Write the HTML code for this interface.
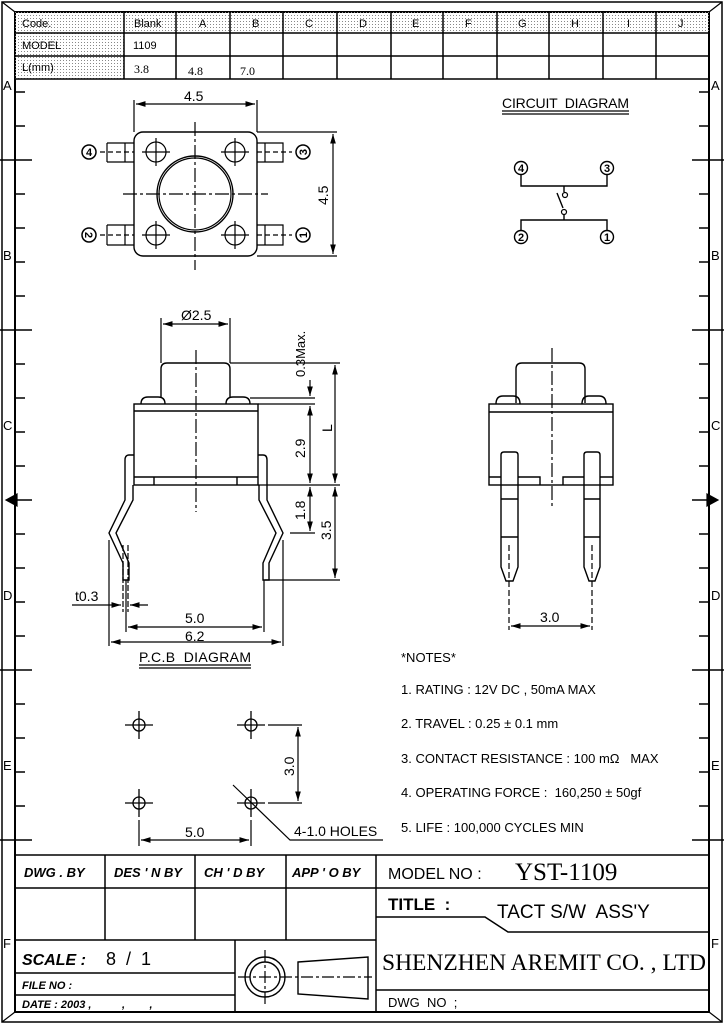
<!DOCTYPE html>
<html><head><meta charset="utf-8"><style>
html,body{margin:0;padding:0;background:#fff}
svg{display:block}
text{font-family:"Liberation Sans",sans-serif;fill:#000;white-space:pre}
.s{font-family:"Liberation Serif",serif}
.bi{font-style:italic;font-weight:bold}
</style></head><body>
<svg width="724" height="1024" viewBox="0 0 724 1024" xmlns="http://www.w3.org/2000/svg" xml:space="preserve">
<defs>
<pattern id="dots" width="3" height="3" patternUnits="userSpaceOnUse"><rect x="0" y="0" width="1" height="1" fill="#888"/></pattern>
<marker id="a" viewBox="0 0 10 6" refX="10" refY="3" markerWidth="8" markerHeight="5" orient="auto-start-reverse"><path d="M0,0L10,3L0,6z" fill="#000"/></marker>
</defs>
<g stroke="#000" fill="none" stroke-width="1.2">
<rect x="2" y="2" width="720" height="1020" stroke-width="1.5"/>
<rect x="15" y="12" width="694" height="1000" stroke-width="2"/>
<path d="M2,2L15,12M722,2L709,12M2,1022L15,1012M722,1022L709,1012"/>
<rect x="15" y="12" width="109" height="67" fill="url(#dots)" stroke="none"/>
<rect x="124" y="12" width="585" height="21" fill="url(#dots)" stroke="none"/>
<path d="M15,33H709M15,56H709M15,79H709" stroke-width="1.5"/>
<path d="M124,12V79M176,12V79M230,12V79M283,12V79M337,12V79M391,12V79M443,12V79M497,12V79M549,12V79M603,12V79M656,12V79" stroke-width="1.5"/>
<g stroke-width="1.5">
<path d="M0,160H32M0,330H32M0,670H32M0,840H32M15,500H32"/>
<path d="M692,160H724M692,330H724M692,670H724M692,840H724M692,500H709"/>
<path d="M15,92H25M15,126H25M15,194H25M15,228H25M15,262H25M15,296H25M15,364H25M15,398H25M15,432H25M15,466H25M15,534H25M15,568H25M15,602H25M15,636H25M15,704H25M15,738H25M15,772H25M15,806H25"/>
<path d="M699,92H709M699,126H709M699,194H709M699,228H709M699,262H709M699,296H709M699,364H709M699,398H709M699,432H709M699,466H709M699,534H709M699,568H709M699,602H709M699,636H709M699,704H709M699,738H709M699,772H709M699,806H709"/>
</g>
<path d="M6,500L17,494L17,506z" fill="#000"/>
<path d="M718,500L707,494L707,506z" fill="#000"/>

<rect x="134" y="132" width="123" height="124" rx="9" stroke-width="1.4"/>
<circle cx="195" cy="194" r="38" stroke-width="1.4"/><circle cx="195" cy="194" r="36"/>
<g>
<circle cx="156" cy="152" r="10"/><circle cx="235" cy="152" r="10"/><circle cx="156" cy="235" r="10"/><circle cx="235" cy="235" r="10"/>
<path d="M142,152H170M156,138V166M221,152H249M235,138V166M142,235H170M156,221V249M221,235H249M235,221V249"/>
</g>
<path d="M195,122V270M123,194H268" stroke-dasharray="14,3,3,3"/>
<path d="M107,143H134M107,162H134M107,143V162M125,143V162M107,225H134M107,245H134M107,225V245M125,225V245"/>
<path d="M257,143H283V162H257M265,143V162M257,225H283V245H257M265,225V245"/>
<path d="M100,152H134M100,235H134M257,152H292M257,235H292" stroke-dasharray="5,3"/>
<circle cx="89" cy="152" r="7" stroke-width="1.5"/><circle cx="89" cy="235" r="7" stroke-width="1.5"/><circle cx="303" cy="152" r="7" stroke-width="1.5"/><circle cx="303" cy="235" r="7" stroke-width="1.5"/>
<path d="M134,100V132M257,100V132"/>
<path d="M136,104H255" marker-start="url(#a)" marker-end="url(#a)"/>
<path d="M257,132H337M257,256H337"/>
<path d="M333,134V254" marker-start="url(#a)" marker-end="url(#a)"/>

<path d="M502,111H629M502,114H629"/>
<circle cx="521" cy="168" r="6.5" stroke-width="1.4"/><circle cx="607" cy="168" r="6.5" stroke-width="1.4"/><circle cx="521" cy="237" r="6.5" stroke-width="1.4"/><circle cx="607" cy="237" r="6.5" stroke-width="1.4"/>
<path d="M521,174V186H607V174M564,186V192M557,193L563,208M564,215V220M521,231V220H607V231" stroke-width="1.4"/>
<circle cx="565" cy="195" r="2.5"/><circle cx="564" cy="212" r="2.5"/>

<g stroke-width="1.4">
<path d="M161,398V369Q161,363 167,363H224Q230,363 230,369V398"/>
<path d="M141,404Q141,397 148,397H158Q165,397 165,404M226,404Q226,397 233,397H243Q250,397 250,404"/>
<rect x="134" y="404" width="124" height="81"/>
<path d="M134,411H258M134,477H258M154,477V485M237,477V485"/>
<path d="M134,455H129Q125,455 125,460V500L109,533L123,563V580H129V563L116,533L133,500V485"/>
<path d="M258,455H263Q267,455 267,460V500L283,533L269,563V580H263V563L276,533L259,500V485"/>
</g>
<path d="M196,350V512" stroke-dasharray="14,3,3,3"/>
<path d="M161,318V363M230,318V363"/>
<path d="M163,324H228" marker-start="url(#a)" marker-end="url(#a)"/>
<path d="M230,363H340M250,398H315M258,404H315M258,485H340M290,533H315M265,580H340"/>
<path d="M310,380V396" marker-end="url(#a)"/><path d="M310,406V483" marker-start="url(#a)" marker-end="url(#a)"/>
<path d="M310,487V531" marker-start="url(#a)" marker-end="url(#a)"/>
<path d="M335,365V483" marker-start="url(#a)" marker-end="url(#a)"/>
<path d="M335,487V578" marker-start="url(#a)" marker-end="url(#a)"/>
<path d="M123,545V612M128,545V612" stroke-dasharray="6,2"/>
<path d="M110,605H121" marker-end="url(#a)"/><path d="M148,605H130" marker-end="url(#a)"/><path d="M72,605H110"/>
<path d="M126,580V632M264,580V632M109,540V646M283,540V646"/>
<path d="M128,627H262" marker-start="url(#a)" marker-end="url(#a)"/>
<path d="M111,642H281" marker-start="url(#a)" marker-end="url(#a)"/>

<g stroke-width="1.4">
<path d="M516,403V369Q516,363 522,363H579Q585,363 585,369V403"/>
<path d="M496,404Q496,396 503,396H513Q520,396 520,404M582,404Q582,396 589,396H599Q606,396 606,404"/>
<rect x="489" y="404" width="124" height="81"/>
<path d="M489,412H613M489,477H501M518,477H540V485M563,485V477H584M600,477H613"/>
<path d="M501,485V455Q501,452 504,452H515Q518,452 518,455V567L513,581H506L501,567z"/>
<path d="M584,485V455Q584,452 587,452H597Q600,452 600,455V567L595,581H589L584,567z"/>
<path d="M501,499H518M501,537H518M584,499H600M584,537H600"/>
</g>
<path d="M552,348V508" stroke-dasharray="14,3,3,3"/>
<path d="M509,545V630M592,545V630" stroke-dasharray="6,3"/>
<path d="M511,626H590" marker-start="url(#a)" marker-end="url(#a)"/>

<path d="M139,665H251M139,668H251"/>
<g stroke-width="1.3">
<circle cx="139" cy="725" r="6"/><circle cx="251" cy="725" r="6"/><circle cx="139" cy="803" r="6"/><circle cx="251" cy="803" r="6"/>
<path d="M125,725H153M139,711V739M237,725H265M251,711V739M125,803H153M139,789V817M237,803H265M251,789V817"/>
</g>
<path d="M268,725H302M268,803H302M139,820V846M251,820V846"/>
<path d="M298,727V801" marker-start="url(#a)" marker-end="url(#a)"/>
<path d="M141,840H249" marker-start="url(#a)" marker-end="url(#a)"/>
<path d="M233,785L290,840H383"/>

<g stroke-width="1.5">
<path d="M15,855H709M15,888H709M15,940H376M105,855V940M195,855V940M286,855V940M376,855V1012"/>
<path d="M376,917H485L508,932H709M376,990H709"/>
<path d="M15,973H235M15,995H235M235,940V1012"/>
</g>
<circle cx="265" cy="977" r="20" stroke-width="1.4"/><circle cx="265" cy="977" r="15" stroke-width="1.4"/>
<path d="M265,950V1004M238,977H372" stroke-dasharray="12,3,3,3"/>
<path d="M298,962L368,957V999L298,994z" stroke-width="1.4"/>
</g>

<g font-size="11">
<text x="22" y="27">Code.</text><text x="134" y="27">Blank</text><text x="199" y="27">A</text><text x="252" y="27">B</text>
<text x="305" y="27">C</text><text x="359" y="27">D</text><text x="412" y="27">E</text><text x="465" y="27">F</text>
<text x="518" y="27">G</text><text x="571" y="27">H</text><text x="627" y="27">I</text><text x="678" y="27">J</text>
<text x="22" y="49">MODEL</text><text x="133" y="49">1109</text><text x="22" y="71">L(mm)</text>
</g>
<g class="s" font-size="12"><text x="134" y="73" class="s">3.8</text><text x="188" y="75" class="s">4.8</text><text x="240" y="75" class="s">7.0</text></g>
<g font-size="13">
<text x="3" y="90">A</text><text x="3" y="260">B</text><text x="3" y="430">C</text><text x="3" y="600">D</text><text x="3" y="770">E</text><text x="3" y="948">F</text>
<text x="711" y="90">A</text><text x="711" y="260">B</text><text x="711" y="430">C</text><text x="711" y="600">D</text><text x="711" y="770">E</text><text x="711" y="948">F</text>
</g>
<g font-size="14">
<text x="184" y="101">4.5</text>
<text transform="translate(328,205) rotate(-90)">4.5</text>
<text x="181" y="320">Ø2.5</text>
<text transform="translate(305,377) rotate(-90)" font-size="13">0.3Max.</text>
<text transform="translate(305,458) rotate(-90)">2.9</text>
<text transform="translate(332,432) rotate(-90)">L</text>
<text transform="translate(305,520) rotate(-90)">1.8</text>
<text transform="translate(331,540) rotate(-90)">3.5</text>
<text x="75" y="601">t0.3</text>
<text x="185" y="623">5.0</text>
<text x="185" y="641">6.2</text>
<text x="540" y="622">3.0</text>
<text transform="translate(294,776) rotate(-90)">3.0</text>
<text x="185" y="837">5.0</text>
<text x="294" y="836">4-1.0 HOLES</text>
<text x="502" y="108" textLength="127">CIRCUIT  DIAGRAM</text>
<text x="139" y="662" textLength="112">P.C.B  DIAGRAM</text>
</g>
<g font-size="11" text-anchor="middle" font-weight="bold">
<text x="89" y="156">4</text><text x="89" y="239" transform="rotate(90 89 235)">2</text>
<text x="303" y="156" transform="rotate(-90 303 152)">3</text><text x="303" y="239" transform="rotate(-90 303 235)">1</text>
<text x="521" y="172">4</text><text x="607" y="172">3</text><text x="521" y="241">2</text><text x="607" y="241">1</text>
</g>
<g font-size="13">
<text x="401" y="662">*NOTES*</text>
<text x="401" y="694">1. RATING : 12V DC , 50mA MAX</text>
<text x="401" y="728">2. TRAVEL : 0.25 ± 0.1 mm</text>
<text x="401" y="763">3. CONTACT RESISTANCE : 100 mΩ   MAX</text>
<text x="401" y="797">4. OPERATING FORCE :  160,250 ± 50gf</text>
<text x="401" y="832">5. LIFE : 100,000 CYCLES MIN</text>
</g>
<g font-size="13" class="bi">
<text x="24" y="877" class="bi">DWG . BY</text><text x="114" y="877" class="bi">DES ' N BY</text>
<text x="204" y="877" class="bi">CH ' D BY</text><text x="292" y="877" class="bi">APP ' O BY</text>
<text x="22" y="965" font-size="16" class="bi">SCALE :</text>
<text x="22" y="989" font-size="11" class="bi">FILE NO :</text>
<text x="22" y="1008" font-size="11" class="bi">DATE : 2003 ,          ,        ,</text>
</g>
<text x="106" y="965" font-size="18">8  /  1</text>
<text x="388" y="879" font-size="16">MODEL NO :</text>
<text x="515" y="880" font-size="25" class="s">YST-1109</text>
<text x="388" y="910" font-size="17" font-weight="bold">TITLE  :</text>
<text x="497" y="918" font-size="19">TACT S/W  ASS'Y</text>
<text x="382" y="970" font-size="23" class="s" textLength="324" lengthAdjust="spacingAndGlyphs">SHENZHEN AREMIT CO. , LTD</text>
<text x="388" y="1007" font-size="13">DWG  NO  ;</text>
</svg>
</body></html>
